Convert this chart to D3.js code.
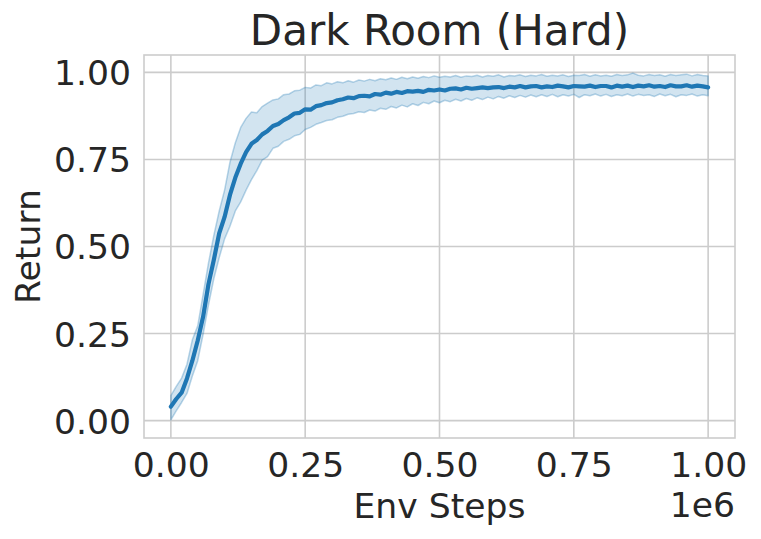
<!DOCTYPE html>
<html>
<head>
<meta charset="utf-8">
<script src="https://cdn.jsdelivr.net/npm/d3@7"></script>
<style>
  html, body { margin: 0; padding: 0; background: #fff; }
  svg { display: block; }
  text { font-family: "DejaVu Sans", sans-serif; fill: #262626; }
</style>
</head>
<body>
<svg id="chart" width="761" height="539"></svg>
<script>
// ---- data (Env Steps in units of 1e6, sampled every 0.01) ----
const steps = d3.range(0, 101).map(i => i / 100);
const meanReturn = [
  0.040, 0.062, 0.080, 0.121, 0.172, 0.230, 0.298, 0.392, 0.462, 0.538,
  0.585, 0.648, 0.698, 0.738, 0.771, 0.795, 0.806, 0.822, 0.832, 0.846,
  0.852, 0.863, 0.871, 0.882, 0.884, 0.894, 0.893, 0.903, 0.906, 0.912,
  0.914, 0.920, 0.923, 0.928, 0.926, 0.932, 0.933, 0.931, 0.938, 0.936,
  0.942, 0.939, 0.944, 0.941, 0.946, 0.945, 0.947, 0.944, 0.950, 0.948,
  0.951, 0.948, 0.953, 0.954, 0.951, 0.956, 0.953, 0.955, 0.957, 0.955,
  0.957, 0.958, 0.955, 0.959, 0.957, 0.961, 0.957, 0.960, 0.961, 0.957,
  0.960, 0.958, 0.962, 0.960, 0.957, 0.961, 0.960, 0.959, 0.962, 0.958,
  0.961, 0.961, 0.957, 0.962, 0.959, 0.962, 0.958, 0.962, 0.960, 0.963,
  0.959, 0.961, 0.958, 0.963, 0.960, 0.960, 0.963, 0.959, 0.962, 0.960,
  0.957
];
const upperReturn = [
  0.072, 0.098, 0.122, 0.162, 0.232, 0.272, 0.362, 0.452, 0.532, 0.602,
  0.662, 0.742, 0.798, 0.842, 0.868, 0.886, 0.884, 0.902, 0.912, 0.921,
  0.924, 0.936, 0.938, 0.947, 0.949, 0.957, 0.955, 0.964, 0.962, 0.970,
  0.967, 0.973, 0.970, 0.976, 0.972, 0.978, 0.975, 0.980, 0.976, 0.982,
  0.979, 0.984, 0.980, 0.986, 0.982, 0.987, 0.983, 0.988, 0.985, 0.990,
  0.986, 0.989, 0.987, 0.991, 0.986, 0.990, 0.988, 0.992, 0.987, 0.991,
  0.989, 0.993, 0.987, 0.991, 0.990, 0.993, 0.988, 0.992, 0.990, 0.994,
  0.989, 0.992, 0.990, 0.993, 0.988, 0.992, 0.991, 0.994, 0.989, 0.993,
  0.990, 0.992, 0.989, 0.994, 0.991, 0.993, 0.998, 0.992, 0.990, 0.994,
  0.991, 0.993, 0.989, 0.994, 0.991, 0.993, 0.995, 0.990, 0.994, 0.991,
  0.990
];
const lowerReturn = [
  0.002, 0.028, 0.052, 0.078, 0.128, 0.172, 0.248, 0.332, 0.408, 0.468,
  0.522, 0.558, 0.602, 0.628, 0.662, 0.692, 0.718, 0.748, 0.758, 0.782,
  0.788, 0.802, 0.808, 0.818, 0.822, 0.836, 0.842, 0.851, 0.856, 0.862,
  0.864, 0.871, 0.874, 0.880, 0.882, 0.887, 0.885, 0.892, 0.889, 0.897,
  0.894, 0.902, 0.898, 0.906, 0.901, 0.910, 0.905, 0.914, 0.910, 0.918,
  0.913, 0.920, 0.916, 0.923, 0.918, 0.925, 0.920, 0.927, 0.922, 0.929,
  0.924, 0.931, 0.926, 0.933, 0.928, 0.934, 0.929, 0.935, 0.930, 0.936,
  0.931, 0.937, 0.930, 0.936, 0.932, 0.937, 0.928, 0.936, 0.933, 0.938,
  0.932, 0.937, 0.931, 0.936, 0.933, 0.938, 0.932, 0.937, 0.934, 0.936,
  0.931, 0.938, 0.933, 0.937, 0.930, 0.936, 0.934, 0.938, 0.932, 0.936,
  0.933
];
const xTicks = [0, 0.25, 0.5, 0.75, 1.0];
const xTickLabels = ["0.00", "0.25", "0.50", "0.75", "1.00"];
const yTicks = [0, 0.25, 0.5, 0.75, 1.0];
const yTickLabels = ["0.00", "0.25", "0.50", "0.75", "1.00"];
const titleText = "Dark Room (Hard)";
const xLabelText = "Env Steps";
const yLabelText = "Return";
const offsetText = "1e6";

// ---- layout ----
const plot = { left: 144, top: 55, right: 735, bottom: 438 };
const svg = d3.select("#chart");
const x = d3.scaleLinear().domain([-0.05, 1.05]).range([plot.left, plot.right]);
const y = d3.scaleLinear().domain([-0.05, 1.05]).range([plot.bottom, plot.top]);
const gridColor = "#cccccc";
const lineColor = "#1f77b4";
const fontSize = 34.6;

// gridlines
svg.append("g").selectAll("line").data(xTicks).join("line")
  .attr("x1", d => x(d)).attr("x2", d => x(d))
  .attr("y1", plot.top).attr("y2", plot.bottom)
  .attr("stroke", gridColor).attr("stroke-width", 1.6);
svg.append("g").selectAll("line").data(yTicks).join("line")
  .attr("y1", d => y(d)).attr("y2", d => y(d))
  .attr("x1", plot.left).attr("x2", plot.right)
  .attr("stroke", gridColor).attr("stroke-width", 1.6);

// data
const pts = steps.map((s, i) => ({ s, m: meanReturn[i], u: upperReturn[i], l: lowerReturn[i] }));
svg.append("path").datum(pts)
  .attr("d", d3.area().x(d => x(d.s)).y0(d => y(d.l)).y1(d => y(d.u)))
  .attr("fill", lineColor).attr("fill-opacity", 0.2)
  .attr("stroke", lineColor).attr("stroke-opacity", 0.3).attr("stroke-width", 1.5)
  .attr("stroke-linejoin", "round");
svg.append("path").datum(pts)
  .attr("d", d3.line().x(d => x(d.s)).y(d => y(d.m)))
  .attr("fill", "none").attr("stroke", lineColor).attr("stroke-width", 4.2)
  .attr("stroke-linejoin", "round").attr("stroke-linecap", "round");

// frame
svg.append("rect")
  .attr("x", plot.left).attr("y", plot.top)
  .attr("width", plot.right - plot.left).attr("height", plot.bottom - plot.top)
  .attr("fill", "none").attr("stroke", gridColor).attr("stroke-width", 1.6);

// x axis tick labels
const xAxis = d3.axisBottom(x).tickValues(xTicks)
  .tickFormat((d, i) => xTickLabels[i]).tickSize(0).tickPadding(0);
const gx = svg.append("g").attr("transform", `translate(0,${plot.bottom})`).call(xAxis);
gx.select(".domain").remove();
gx.selectAll("text").attr("y", 39).attr("dy", null)
  .style("font-size", fontSize + "px").style("font-family", "DejaVu Sans").attr("fill", "#262626");

// y axis tick labels
const yAxis = d3.axisLeft(y).tickValues(yTicks)
  .tickFormat((d, i) => yTickLabels[i]).tickSize(0).tickPadding(0);
const gy = svg.append("g").attr("transform", `translate(${plot.left},0)`).call(yAxis);
gy.select(".domain").remove();
gy.selectAll("text").attr("x", -13).attr("dy", "0.36em")
  .style("font-size", fontSize + "px").style("font-family", "DejaVu Sans").attr("fill", "#262626");

// title and labels
svg.append("text").attr("x", (plot.left + plot.right) / 2).attr("y", 45)
  .attr("text-anchor", "middle").style("font-size", "42px").text(titleText);
svg.append("text").attr("x", (plot.left + plot.right) / 2).attr("y", 518)
  .attr("text-anchor", "middle").style("font-size", fontSize + "px").text(xLabelText);
svg.append("text").attr("transform", `translate(40,${(plot.top + plot.bottom) / 2}) rotate(-90)`)
  .attr("text-anchor", "middle").style("font-size", fontSize + "px").text(yLabelText);
svg.append("text").attr("x", plot.right).attr("y", 517)
  .attr("text-anchor", "end").style("font-size", fontSize + "px").text(offsetText);
</script>
</body>
</html>
